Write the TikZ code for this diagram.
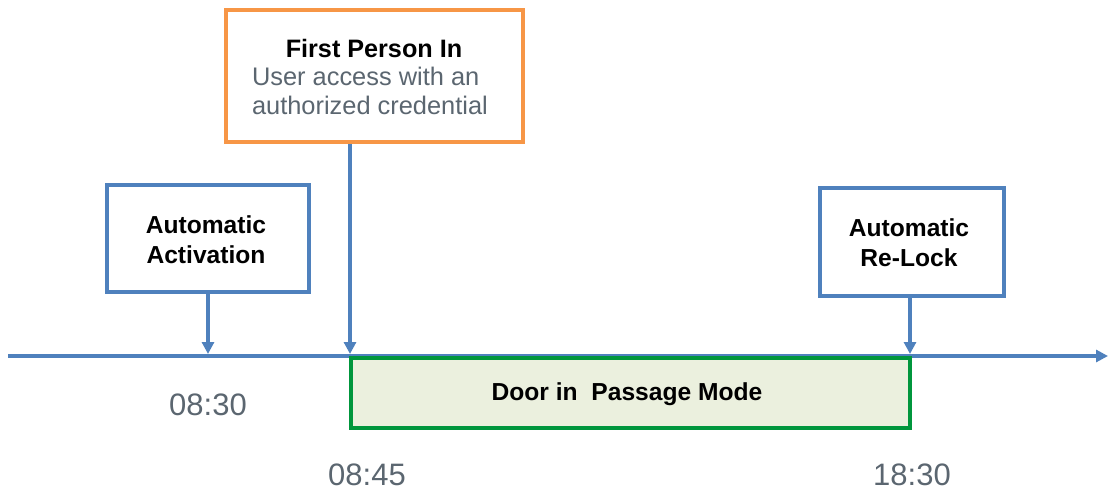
\documentclass[tikz,border=0pt]{standalone}
\usepackage{fontspec}
\setmainfont{Liberation Sans}
\usetikzlibrary{arrows.meta}
\definecolor{tlblue}{HTML}{4F81BD}
\definecolor{fpiorange}{HTML}{F79646}
\definecolor{pmgreen}{HTML}{00963C}
\definecolor{pmfill}{HTML}{EBF0DE}
\definecolor{txtgray}{HTML}{5B6670}
\tikzset{
  evbox/.style={draw=tlblue, line width=2pt, fill=white, rectangle, inner sep=0pt},
  boldlbl/.style={font=\fontsize{12.3pt}{15pt}\selectfont\bfseries, text=black, align=center},
  timelbl/.style={font=\fontsize{15.5pt}{18pt}\selectfont, text=txtgray},
  bodylbl/.style={font=\fontsize{12.7pt}{14.5pt}\selectfont, text=txtgray, align=left},
  tlarrow/.style={draw=tlblue, line width=2pt, -{Triangle[width=6pt,length=6pt]}},
}
\begin{document}
\begin{tikzpicture}[x=0.5pt,y=-0.5pt]
\useasboundingbox (0,0) rectangle (1108,492);
% timeline
\coordinate (tl0) at (8,356);
\coordinate (tl1) at (1108,356);
\draw[tlarrow, line width=1.8pt] (tl0) -- (tl1);
% boxes
\node[evbox, minimum width=101pt, minimum height=53.5pt] (aa) at (208,238.5) {};
\node[boldlbl] (aat) at (206,240) {Automatic\\Activation};
\node[evbox, draw=fpiorange, minimum width=148.5pt, minimum height=66pt] (fpi) at (374.5,76) {};
\node[boldlbl, font=\fontsize{12.6pt}{15pt}\selectfont\bfseries] (fpit) at (374,48) {First Person In};
\node[bodylbl, anchor=north west] (fpib) at (245,60) {User access with an\\authorized credential};
\node[evbox, minimum width=92pt, minimum height=54pt] (rl) at (912,242) {};
\node[boldlbl] (rlt) at (909,243) {Automatic\\Re-Lock};
% connectors
\coordinate (t1) at (208,354);
\coordinate (t2) at (350,354);
\coordinate (t3) at (910,354);
\draw[tlarrow] (aa.south) -- (t1);
\draw[tlarrow] (fpi.south -| t2) -- (t2);
\draw[tlarrow] (rl.south -| t3) -- (t3);
% passage mode
\node[draw=pmgreen, fill=pmfill, line width=2pt, minimum width=279.5pt, minimum height=35pt, inner sep=0pt] (pm) at (630.5,393) {};
\node[boldlbl] (pmt) at (627,394) {Door in\ \ Passage Mode};
% times
\node[timelbl] (h1) at (208,405) {08:30};
\node[timelbl] (h2) at (367,475) {08:45};
\node[timelbl] (h3) at (912,475) {18:30};
\end{tikzpicture}
\end{document}
